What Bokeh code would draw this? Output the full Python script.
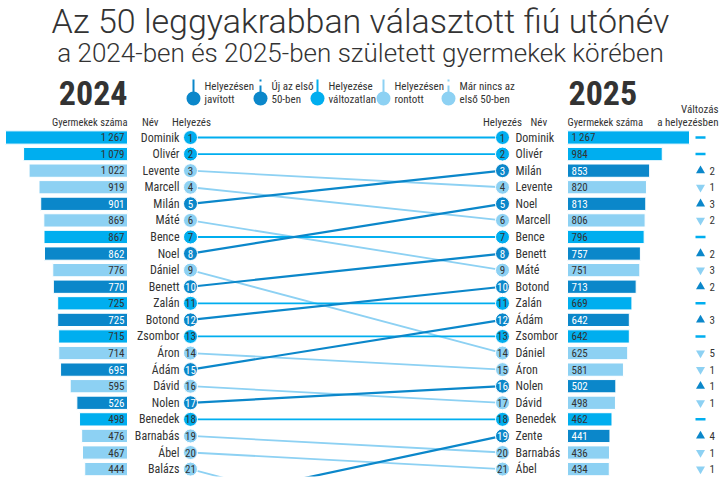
from bokeh.plotting import figure
from bokeh.models import Range1d, Label, ColumnDataSource
from bokeh.core.properties import value
from bokeh.embed import file_html
from bokeh.resources import INLINE

# ---- data -----------------------------------------------------------------
names_2024 = ["Dominik", "Olivér", "Levente", "Marcell", "Milán", "Máté", "Bence",
              "Noel", "Dániel", "Benett", "Zalán", "Botond", "Zsombor", "Áron",
              "Ádám", "Dávid", "Nolen", "Benedek", "Barnabás", "Ábel", "Balázs"]
counts_2024 = [1267, 1079, 1022, 919, 901, 869, 867, 862, 776, 770, 725, 725,
               715, 714, 695, 595, 526, 498, 476, 467, 444]

names_2025 = ["Dominik", "Olivér", "Milán", "Levente", "Noel", "Marcell", "Bence",
              "Benett", "Máté", "Botond", "Zalán", "Ádám", "Zsombor", "Dániel",
              "Áron", "Nolen", "Dávid", "Benedek", "Zente", "Barnabás", "Ábel"]
counts_2025 = [1267, 984, 853, 820, 813, 806, 796, 757, 751, 713, 669, 642,
               642, 625, 581, 502, 498, 462, 441, 436, 434]

# ranks of names that fall below the visible 21 rows in the other year
rank_2024_below = {"Zente": 23}
rank_2025_below = {"Balázs": 26}

title = "Az 50 leggyakrabban választott fiú utónév"
subtitle = "a 2024-ben és 2025-ben született gyermekek körében"
legend_labels = [("Helyezésen", "javított"), ("Új az első", "50-ben"),
                 ("Helyezése", "változatlan"), ("Helyezésen", "rontott"),
                 ("Már nincs az", "első 50-ben")]

# ---- styling / layout -----------------------------------------------------
DARK, MID, LIGHT = "#0B87CA", "#00AEEF", "#8DD1F3"
INK = "#333333"
FONT = "Roboto Condensed, Liberation Sans Narrow, DejaVu Sans Condensed, Open Sans"
TITLE_FONT = "Roboto Light, Roboto, Open Sans"

W, H = 720, 480
FRAME_H = 476
ROW_Y0, ROW_DY = 137.0, 16.58          # first row centre and row pitch (px)
BAR24_X, BAR25_X = 127.0, 567.0        # bar baselines (px)
K = 0.0963                             # px per child
C24_X, C25_X = 190.0, 502.0            # rank bubble columns (px)
CHG_X = 700.0

rank24 = {n: i + 1 for i, n in enumerate(names_2024)}
rank24.update(rank_2024_below)
rank25 = {n: i + 1 for i, n in enumerate(names_2025)}
rank25.update(rank_2025_below)


def status(n):
    d = rank24[n] - rank25[n]
    return "up" if d > 0 else ("down" if d < 0 else "same")


COLOR = {"up": DARK, "same": MID, "down": LIGHT}
TXT = {"up": "white", "same": INK, "down": INK}


def fmt(v):
    return f"{v:,}".replace(",", "\u2009")


p = figure(width=W, height=H, x_range=Range1d(0, W), y_range=Range1d(FRAME_H, 0),
           x_axis_type=None, y_axis_type=None, toolbar_location=None,
           output_backend="svg", min_border=0, min_border_bottom=H - FRAME_H)
p.outline_line_color = None
p.background_fill_color = "white"
p.border_fill_color = "white"

p.extra_y_ranges = {"rank": Range1d(start=1 + (FRAME_H - ROW_Y0) / ROW_DY,
                                    end=1 - ROW_Y0 / ROW_DY)}
p.extra_x_ranges = {"c24": Range1d(start=BAR24_X / K, end=(BAR24_X - W) / K),
                    "c25": Range1d(start=-BAR25_X / K, end=(W - BAR25_X) / K)}

src24 = ColumnDataSource(dict(
    name=names_2024, rank=[rank24[n] for n in names_2024], count=counts_2024,
    label=[fmt(c) for c in counts_2024], rank_txt=[str(rank24[n]) for n in names_2024],
    color=[COLOR[status(n)] for n in names_2024],
    tcolor=[TXT[status(n)] for n in names_2024]))
src25 = ColumnDataSource(dict(
    name=names_2025, rank=[rank25[n] for n in names_2025], count=counts_2025,
    label=[fmt(c) for c in counts_2025], rank_txt=[str(rank25[n]) for n in names_2025],
    color=[COLOR[status(n)] for n in names_2025],
    tcolor=[TXT[status(n)] for n in names_2025]))

# connecting lines between the two years
all_names = names_2024 + [n for n in names_2025 if n in rank_2024_below]
seg = ColumnDataSource(dict(
    r24=[rank24[n] for n in all_names], r25=[rank25[n] for n in all_names],
    color=[COLOR[status(n)] for n in all_names],
    width=[2.2 if status(n) == "up" else 1.8 for n in all_names]))
p.segment(x0=C24_X, y0="r24", x1=C25_X, y1="r25", line_color="color",
          line_width="width", source=seg, y_range_name="rank")

# bars
for src, rng in ((src24, "c24"), (src25, "c25")):
    p.hbar(y="rank", left=0, right="count", height=0.8, fill_color="color",
           line_color="white", line_width=1, source=src,
           x_range_name=rng, y_range_name="rank")

p.text(x=0, y="rank", text="label", x_offset=-3, text_align="right",
       text_baseline="middle", text_color="tcolor", text_font=value(FONT),
       text_font_size="11px", source=src24, x_range_name="c24", y_range_name="rank")
p.text(x=0, y="rank", text="label", x_offset=4, text_align="left",
       text_baseline="middle", text_color="tcolor", text_font=value(FONT),
       text_font_size="11px", source=src25, x_range_name="c25", y_range_name="rank")

# names
p.text(x=C24_X - 11, y="rank", text="name", text_align="right", text_baseline="middle",
       text_color=INK, text_font=value(FONT), text_font_size="12px",
       source=src24, y_range_name="rank")
p.text(x=C25_X + 13, y="rank", text="name", text_align="left", text_baseline="middle",
       text_color=INK, text_font=value(FONT), text_font_size="12px",
       source=src25, y_range_name="rank")

# rank bubbles
for src, cx in ((src24, C24_X), (src25, C25_X)):
    p.scatter(x=cx, y="rank", size=14, fill_color="color", line_color="white",
              line_width=1, source=src, y_range_name="rank")
    p.text(x=cx, y="rank", text="rank_txt", text_align="center", text_baseline="middle",
           text_color="tcolor", text_font=value(FONT), text_font_size="11px",
           source=src, y_range_name="rank")

# change column
chg = {"up": [], "down": [], "same": []}
num_r, num_t = [], []
for n in names_2025:
    chg[status(n)].append(rank25[n])
    d = rank24[n] - rank25[n]
    if d:
        num_r.append(rank25[n])
        num_t.append(str(abs(d)))
p.scatter(x=CHG_X, y=chg["up"], marker="triangle", size=9, fill_color=DARK,
          line_color=None, y_range_name="rank")
p.scatter(x=CHG_X, y=chg["down"], marker="inverted_triangle", size=9,
          fill_color=LIGHT, line_color=None, y_range_name="rank")
p.scatter(x=CHG_X, y=chg["same"], marker="dash", size=10, line_color=MID,
          line_width=2.5, y_range_name="rank")
p.text(x=CHG_X + 9, y=num_r, text=num_t, text_align="left", text_baseline="middle",
       text_color=INK, text_font=value(FONT), text_font_size="11px",
       y_range_name="rank")


def label(x, y, text, size, align="left", font=FONT, style="normal", color=INK):
    p.add_layout(Label(x=x, y=y, text=text, text_align=align, text_baseline="middle",
                       text_font=font, text_font_size=size, text_font_style=style,
                       text_color=color))


# titles
label(360, 20, title, "34px", "center", TITLE_FONT)
label(360, 52, subtitle, "26px", "center", TITLE_FONT)
label(BAR24_X, 92, "2024", "34px", "right", style="bold")
label(BAR25_X + 1, 92, "2025", "34px", "left", style="bold")

# column headers
label(BAR24_X, 122, "Gyermekek száma", "10.5px", "right")
label(158, 122, "Név", "11px", "right")
label(C24_X + 1, 122, "Helyezés", "11px", "center")
label(C25_X, 122, "Helyezés", "11px", "center")
label(530, 122, "Név", "11px", "left")
label(BAR25_X, 122, "Gyermekek száma", "10.5px", "left")
label(718, 109, "Változás", "11px", "right")
label(718, 122, "a helyezésben", "11px", "right")

# legend
leg_x = [193, 260, 317, 383, 448]
leg_c = [DARK, DARK, MID, LIGHT, LIGHT]
leg_dash = ["solid", "2 4 20", "solid", "solid", "2 4 20"]
for x, c, d, (l1, l2) in zip(leg_x, leg_c, leg_dash, legend_labels):
    p.segment(x0=x, y0=79, x1=x, y1=93, line_color=c, line_width=2, line_dash=d)
    p.scatter(x=x, y=98, size=14, fill_color=c, line_color=None)
    label(x + 11, 86, l1, "11px")
    label(x + 11, 99, l2, "11px")

open("out.html", "w").write(file_html(p, INLINE))
